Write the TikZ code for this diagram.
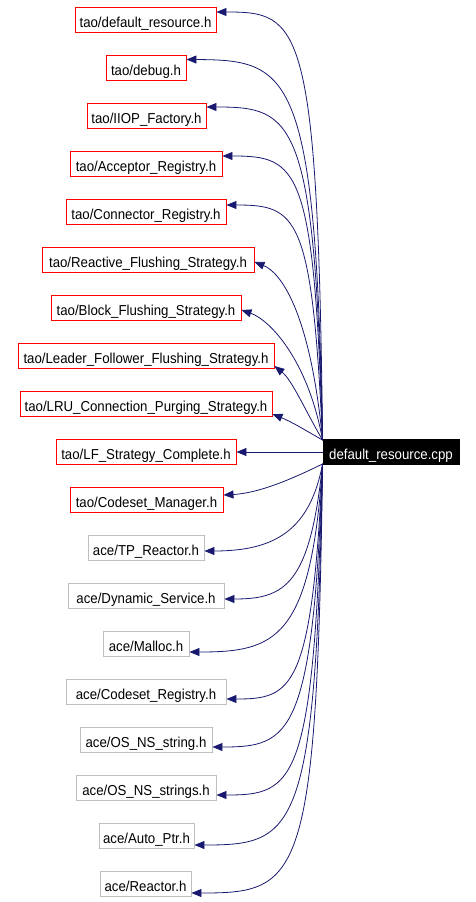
\documentclass[tikz,border=0pt]{standalone}
\usepackage{fontspec}
\setmainfont[FakeStretch=0.92]{Liberation Sans}
\usetikzlibrary{arrows.meta}
\definecolor{edgeblue}{HTML}{191970}
\definecolor{boxgray}{HTML}{BFBFBF}
\begin{document}
\begin{tikzpicture}[x=1pt,y=-1pt,
  base/.style={draw, line width=0.9pt, minimum height=25pt, inner xsep=3pt, inner ysep=0pt,
    text height=15pt, text depth=0pt, font=\fontsize{14.4}{17}\selectfont},
  redbox/.style={base, draw=red},
  graybox/.style={base, draw=boxgray},
  mainbox/.style={base, draw=black, fill=black, text=white},
  edge/.style={draw=edgeblue, line width=0.8pt, -{Triangle[length=10pt,width=8pt]}}]
\useasboundingbox (0,0) rectangle (475,902);
\fill[white] (0,0) rectangle (475,902);
\node[mainbox, minimum width=136pt] (cpp) at (391,452) {default\_resource.cpp};
\node[redbox, minimum width=141pt] (n1) at (145.5,20) {tao/default\_resource.h};
\node[redbox, minimum width=80pt] (n2) at (146,67.5) {tao/debug.h};
\node[redbox, minimum width=119pt] (n3) at (146.5,116) {tao/IIOP\_Factory.h};
\node[redbox, minimum width=152pt] (n4) at (146,164) {tao/Acceptor\_Registry.h};
\node[redbox, minimum width=160pt] (n5) at (146,212) {tao/Connector\_Registry.h};
\node[redbox, minimum width=212pt] (n6) at (148,260) {tao/Reactive\_Flushing\_Strategy.h};
\node[redbox, minimum width=190pt] (n7) at (146,308) {tao/Block\_Flushing\_Strategy.h};
\node[redbox, minimum width=256pt] (n8) at (146,356) {tao/Leader\_Follower\_Flushing\_Strategy.h};
\node[redbox, minimum width=252pt] (n9) at (146,404) {tao/LRU\_Connection\_Purging\_Strategy.h};
\node[redbox, minimum width=180pt] (n10) at (146,452) {tao/LF\_Strategy\_Complete.h};
\node[redbox, minimum width=153pt] (n11) at (146.5,500) {tao/Codeset\_Manager.h};
\node[graybox, minimum width=116pt] (n12) at (146,548) {ace/TP\_Reactor.h};
\node[graybox, minimum width=156pt] (n13) at (146,596) {ace/Dynamic\_Service.h};
\node[graybox, minimum width=86pt] (n14) at (146,644) {ace/Malloc.h};
\node[graybox, minimum width=160pt] (n15) at (146,692) {ace/Codeset\_Registry.h};
\node[graybox, minimum width=132pt] (n16) at (146,740) {ace/OS\_NS\_string.h};
\node[graybox, minimum width=140pt] (n17) at (146,788) {ace/OS\_NS\_strings.h};
\node[graybox, minimum width=95pt] (n18) at (146.5,836) {ace/Auto\_Ptr.h};
\node[graybox, minimum width=91pt] (n19) at (145.5,884) {ace/Reactor.h};
% upper edges
\draw[edge] ([yshift=-1pt]cpp.north west) .. controls (318,20) and (300,12) .. ([yshift=8pt]n1.east);
\draw[edge] ([yshift=-1pt]cpp.north west) .. controls (316,70) and (290,60) .. ([yshift=8pt]n2.east);
\draw[edge] ([yshift=-1pt]cpp.north west) .. controls (315,117) and (293,107) .. ([yshift=9pt]n3.east);
\draw[edge] ([yshift=-1pt]cpp.north west) .. controls (314,166) and (298,156) .. ([yshift=8pt]n4.east);
\draw[edge] ([yshift=-1pt]cpp.north west) .. controls (312,215) and (297,205) .. ([yshift=7pt]n5.east);
\draw[edge] ([yshift=-1pt]cpp.north west) .. controls (310,310) and (280,272) .. ([yshift=-2pt]n6.east);
\draw[edge] ([yshift=-1pt]cpp.north west) .. controls (308,360) and (270,320) .. ([yshift=-2pt]n7.east);
\draw[edge] ([yshift=-1pt]cpp.north west) .. controls (305,410) and (292,380) .. ([yshift=-10pt]n8.east);
\draw[edge] ([yshift=-1pt]cpp.north west) .. controls (305,430) and (292,422) .. ([yshift=-10pt]n9.east);
\draw[edge] (cpp.west) -- (n10.east);
% lower edges
\draw[edge] ([yshift=1pt]cpp.south west) .. controls (300,475) and (262,493) .. ([yshift=5pt]n11.east);
\draw[edge] ([yshift=1pt]cpp.south west) .. controls (310,530) and (275,551) .. ([yshift=-3pt]n12.east);
\draw[edge] ([yshift=1pt]cpp.south west) .. controls (310,585) and (285,599) .. ([yshift=-3pt]n13.east);
\draw[edge] ([yshift=1pt]cpp.south west) .. controls (311,640) and (275,652) .. ([yshift=-8pt]n14.east);
\draw[edge] ([yshift=1pt]cpp.south west) .. controls (312,690) and (292,699) .. ([yshift=-7pt]n15.east);
\draw[edge] ([yshift=1pt]cpp.south west) .. controls (313,737) and (290,747) .. ([yshift=-7pt]n16.east);
\draw[edge] ([yshift=1pt]cpp.south west) .. controls (314,785) and (295,795) .. ([yshift=-7pt]n17.east);
\draw[edge] ([yshift=1pt]cpp.south west) .. controls (316,835) and (295,845) .. ([yshift=-9pt]n18.east);
\draw[edge] ([yshift=1pt]cpp.south west) .. controls (317,883) and (300,893) .. ([yshift=-9pt]n19.east);
\end{tikzpicture}
\end{document}
